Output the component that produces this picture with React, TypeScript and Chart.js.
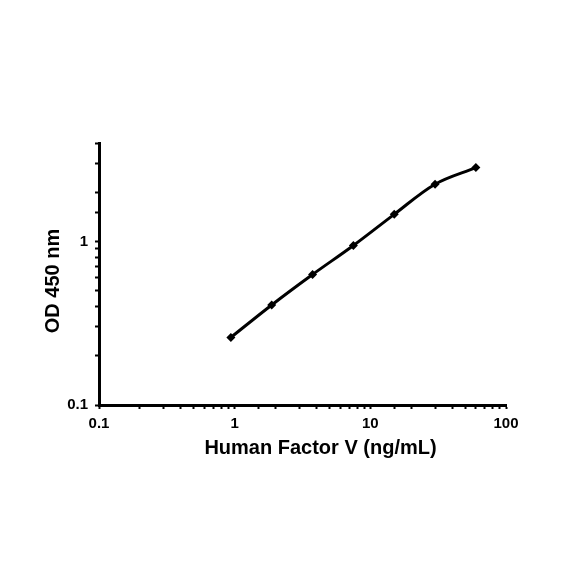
import React, { useEffect, useRef } from "react";
import { Chart, registerables } from "chart.js";

Chart.register(...registerables);

const concentrations = [0.9375, 1.875, 3.75, 7.5, 15, 30, 60];
const odValues = [0.259, 0.409, 0.628, 0.945, 1.465, 2.24, 2.83];
const xTickLabels = [0.1, 1, 10, 100];
const yTickLabels = [0.1, 1];
const xTitle = "Human Factor V (ng/mL)";
const yTitle = "OD 450 nm";

const FONT = "'Liberation Sans', Arial, sans-serif";

const isLabelled = (v: number, list: number[]) =>
  list.some((t) => Math.abs(t - v) / t < 1e-6);

const axisTitles = {
  id: "axisTitles",
  afterDraw(chart: any) {
    const { ctx, chartArea } = chart;
    ctx.save();
    ctx.fillStyle = "#000";
    ctx.font = `bold 20px ${FONT}`;
    ctx.textAlign = "center";
    ctx.textBaseline = "middle";
    ctx.fillText(xTitle, (chartArea.left + chartArea.right) / 2 + 18, chartArea.bottom + 43);
    ctx.translate(chartArea.left - 46, (chartArea.top + chartArea.bottom) / 2 + 7);
    ctx.rotate(-Math.PI / 2);
    ctx.fillText(yTitle, 0, 0);
    ctx.restore();
  },
};

export default function App() {
  const ref = useRef<HTMLCanvasElement>(null);
  useEffect(() => {
    if (!ref.current) return;
    const chart = new Chart(ref.current, {
      type: "line",
      data: {
        datasets: [
          {
            data: concentrations.map((c, i) => ({ x: c, y: odValues[i] })),
            borderColor: "#000",
            backgroundColor: "#000",
            borderWidth: 3,
            tension: 0.35,
            pointStyle: "rectRot",
            pointRadius: 4.5,
            pointBorderWidth: 0,
            pointBackgroundColor: "#000",
            fill: false,
          },
        ],
      },
      options: {
        responsive: false,
        animation: false,
        layout: { padding: { left: 0, top: 143, right: 78, bottom: 0 } },
        plugins: { legend: { display: false }, tooltip: { enabled: false } },
        scales: {
          x: {
            type: "logarithmic",
            position: "bottom",
            min: 0.1,
            max: 100,
            afterFit: (s: any) => {
              s.height = 179;
            },
            border: { display: true, color: "#000", width: 3 },
            grid: { drawOnChartArea: false, drawTicks: true, tickLength: 4, color: "#000", tickWidth: 2 },
            ticks: {
              autoSkip: false,
              maxRotation: 0,
              padding: 6,
              color: "#000",
              font: { family: FONT, size: 15, weight: "bold" },
              callback: (v: any) => (isLabelled(Number(v), xTickLabels) ? String(Number(v)) : ""),
            },
            title: { display: false },
          },
          y: {
            type: "logarithmic",
            position: "left",
            min: 0.1,
            max: 4,
            afterFit: (s: any) => {
              s.width = 99;
            },
            border: { display: true, color: "#000", width: 3 },
            grid: { drawOnChartArea: false, drawTicks: true, tickLength: 4, color: "#000", tickWidth: 2 },
            ticks: {
              autoSkip: false,
              padding: 7,
              color: "#000",
              font: { family: FONT, size: 15, weight: "bold" },
              callback: (v: any) => (isLabelled(Number(v), yTickLabels) ? String(Number(v)) : ""),
            },
            title: { display: false },
          },
        },
      },
      plugins: [axisTitles],
    });
    return () => chart.destroy();
  }, []);
  return (
    <div style={{ position: "fixed", left: 0, top: 0, width: 584, height: 584, background: "#fff" }}>
      <canvas ref={ref} width={584} height={584} style={{ display: "block" }} />
    </div>
  );
}
